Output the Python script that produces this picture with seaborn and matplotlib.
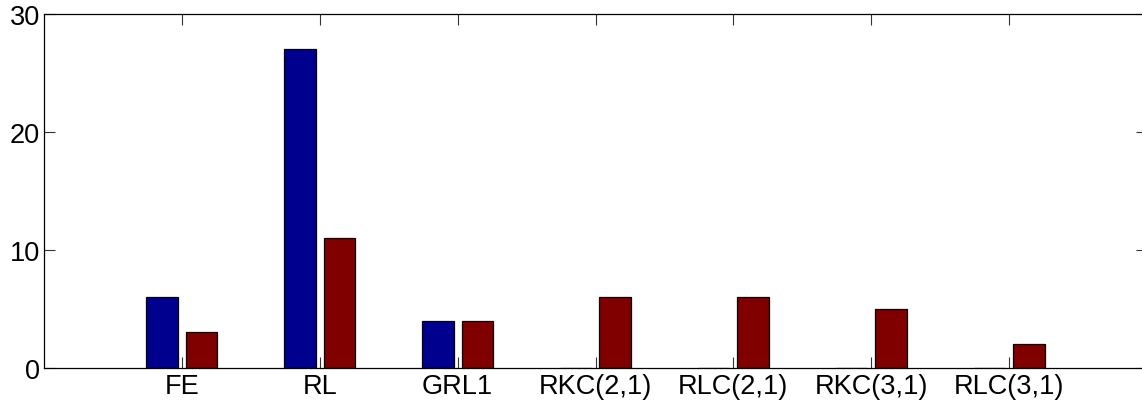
import matplotlib
matplotlib.use("Agg")
import matplotlib.pyplot as plt
import seaborn as sns
import pandas as pd

categories = ["FE", "RL", "GRL1", "RKC(2,1)", "RLC(2,1)", "RKC(3,1)", "RLC(3,1)"]
series1 = [6, 27, 4, 0, 0, 0, 0]
series2 = [3, 11, 4, 6, 6, 5, 2]
series_names = ["A", "B"]
colors = ["#00008F", "#800000"]
yticks = [0, 10, 20, 30]

df = pd.DataFrame({
    "cat": categories * 2,
    "val": series1 + series2,
    "series": [series_names[0]] * len(categories) + [series_names[1]] * len(categories),
})

sns.set_style("white")
plt.rcParams["font.family"] = ["Liberation Sans", "DejaVu Sans"]

fig = plt.figure(figsize=(11.42, 4.02), dpi=100)
ax = fig.add_axes([44 / 1142, 1 - 368.7 / 402, 1103 / 1142, 354 / 402])

sns.barplot(data=df, x="cat", y="val", hue="series", order=categories,
            hue_order=series_names, palette=colors, width=0.572, gap=0.2,
            edgecolor="black", linewidth=0.9, saturation=1, legend=False, ax=ax)

ax.set_xlim(-1, 7)
ax.set_ylim(0, 30)
ax.set_yticks(yticks)
ax.set_yticklabels([str(t) for t in yticks])
ax.set_xlabel("")
ax.set_ylabel("")
for s in ax.spines.values():
    s.set_visible(True)
    s.set_color("black")
    s.set_linewidth(0.9)
ax.tick_params(axis="both", direction="in", length=8, width=0.8, color="#333333",
               labelsize=19.5, top=True, right=True, bottom=True, left=True,
               labelcolor="black")
ax.tick_params(axis="x", pad=4)
ax.tick_params(axis="y", pad=3)

fig.savefig("out.png", dpi=100)
